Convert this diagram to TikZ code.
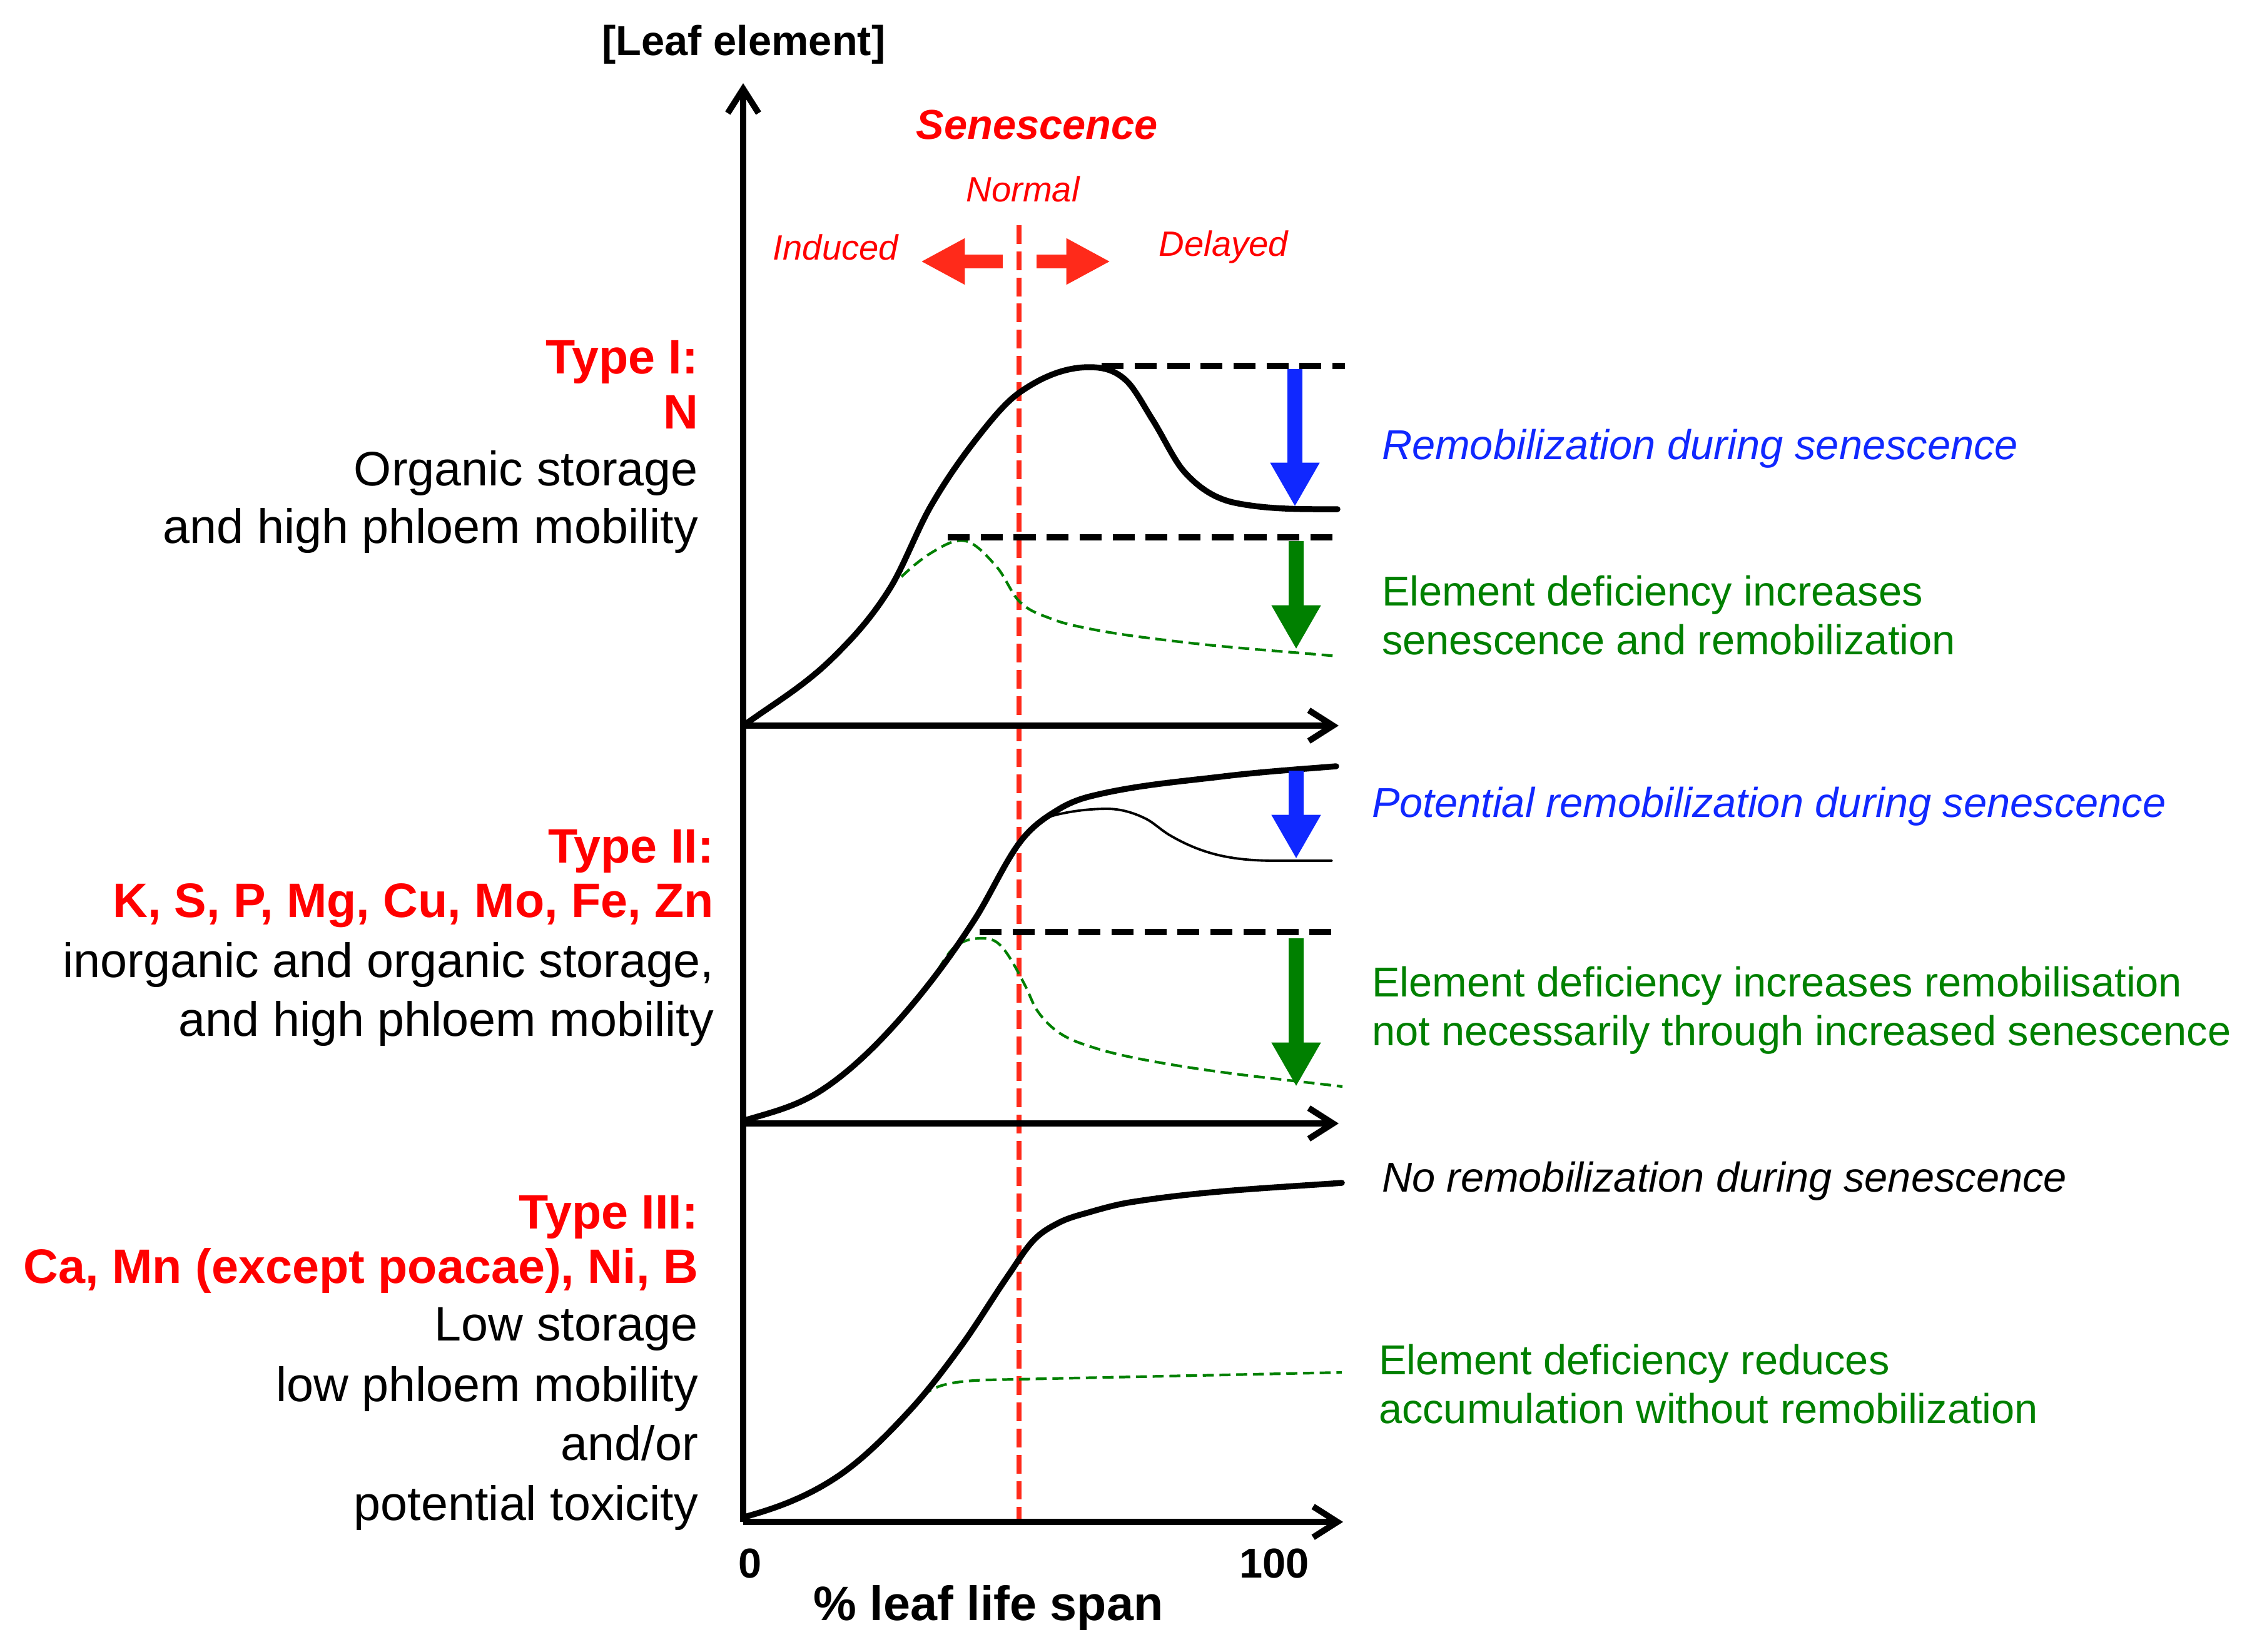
\documentclass[tikz,border=0pt]{standalone}
\usepackage{fontspec}
\setmainfont{Liberation Sans}
\usetikzlibrary{arrows.meta}
\definecolor{myred}{RGB}{255,0,0}
\definecolor{arrred}{RGB}{255,42,26}
\definecolor{myblue}{RGB}{16,40,255}
\definecolor{mygreen}{RGB}{0,128,0}
\newcommand{\fbig}{\fontsize{22}{26}\selectfont}
\newcommand{\fmid}{\fontsize{19}{22}\selectfont}
\newcommand{\fsml}{\fontsize{16}{19}\selectfont}
\begin{document}
\begin{tikzpicture}[
  txt/.style={inner sep=0pt, outer sep=0pt},
  lblock/.style={txt, anchor=base east, font=\fbig},
  lhead/.style={lblock, text=myred, font=\fbig\bfseries},
  rblock/.style={txt, anchor=base west, font=\fmid},
  axisline/.style={line width=2.8pt, -{Straight Barb[length=11pt,width=14pt]}},
  curve/.style={line width=2.7pt, line cap=round, line join=round},
  thincurve/.style={line width=1.1pt, line cap=round},
  greendash/.style={mygreen, line width=1.2pt, dash pattern=on 5pt off 2.6pt},
  leveldash/.style={line width=3.1pt, dash pattern=on 10pt off 5pt},
  reddash/.style={arrred, line width=2.4pt, dash pattern=on 8.5pt off 3.4pt},
  bigarrow/.style={line width=6.8pt, -{Triangle[length=20pt,width=21pt]}},
  redarrow/.style={arrred, line width=6.3pt, -{Triangle[length=20pt,width=19.6pt]}}
]
\useasboundingbox (0,0) rectangle (36,-26.4);
\fill[white] (0,0) rectangle (36,-26.4);

% axes coordinates
\coordinate (O1) at (11.88,-11.60);
\coordinate (O2) at (11.88,-17.96);
\coordinate (O3) at (11.88,-24.33);
\coordinate (Ytop) at (11.88,-1.33);
\coordinate (X1) at (21.40,-11.60);
\coordinate (X2) at (21.40,-17.96);
\coordinate (X3) at (21.47,-24.33);
\coordinate (Rtop) at (16.29,-3.60);
\coordinate (Rbot) at (16.29,-24.33);

% red dashed senescence line
\draw[reddash] (Rtop) -- (Rbot);

% ---------- Type I ----------
\draw[greendash] (14.41,-9.22) .. controls (14.573,-9.065) and (14.737,-8.928) .. (14.90,-8.83)
  .. controls (15.057,-8.736) and (15.213,-8.64) .. (15.37,-8.64)
  .. controls (15.56,-8.64) and (15.75,-8.852) .. (15.94,-9.07)
  .. controls (16.057,-9.204) and (16.173,-9.493) .. (16.29,-9.61)
  .. controls (16.46,-9.78) and (16.63,-9.822) .. (16.80,-9.89)
  .. controls (17.003,-9.971) and (17.207,-10.009) .. (17.41,-10.05)
  .. controls (17.893,-10.147) and (18.377,-10.202) .. (18.86,-10.26)
  .. controls (19.70,-10.361) and (20.54,-10.414) .. (21.38,-10.49);
\draw[curve] (11.94,-11.56) .. controls (12.403,-11.226) and (12.867,-10.959) .. (13.33,-10.50)
  .. controls (13.63,-10.203) and (13.93,-9.883) .. (14.23,-9.40)
  .. controls (14.447,-9.051) and (14.663,-8.465) .. (14.88,-8.09)
  .. controls (15.14,-7.64) and (15.40,-7.278) .. (15.66,-6.95)
  .. controls (15.87,-6.685) and (16.08,-6.429) .. (16.29,-6.28)
  .. controls (16.663,-6.015) and (17.037,-5.87) .. (17.41,-5.87)
  .. controls (17.607,-5.87) and (17.803,-5.899) .. (18.00,-6.08)
  .. controls (18.143,-6.212) and (18.287,-6.495) .. (18.43,-6.72)
  .. controls (18.597,-6.982) and (18.763,-7.353) .. (18.93,-7.54)
  .. controls (19.203,-7.846) and (19.477,-7.985) .. (19.75,-8.04)
  .. controls (20.293,-8.149) and (20.837,-8.14) .. (21.38,-8.14);
\coordinate (L1a) at (17.61,-5.85);
\coordinate (L1b) at (21.50,-5.85);
\coordinate (L2a) at (15.15,-8.59);
\coordinate (L2b) at (21.41,-8.59);
\draw[leveldash] (L1a) -- (L1b);
\draw[leveldash] (L2a) -- (L2b);
\coordinate (B1s) at (20.70,-5.90);
\coordinate (B1e) at (20.70,-8.10);
\coordinate (G1s) at (20.72,-8.65);
\coordinate (G1e) at (20.72,-10.38);
\draw[bigarrow, myblue] (B1s) -- (B1e);
\draw[bigarrow, mygreen] (G1s) -- (G1e);

% ---------- Type II ----------
\draw[greendash] (14.86,-15.72) .. controls (14.99,-15.538) and (15.12,-15.261) .. (15.25,-15.15)
  .. controls (15.40,-15.023) and (15.55,-15.00) .. (15.70,-15.00)
  .. controls (15.797,-15.00) and (15.893,-15.013) .. (15.99,-15.11)
  .. controls (16.123,-15.243) and (16.257,-15.507) .. (16.39,-15.76)
  .. controls (16.45,-15.874) and (16.51,-16.05) .. (16.57,-16.14)
  .. controls (16.677,-16.30) and (16.783,-16.40) .. (16.89,-16.48)
  .. controls (17.07,-16.615) and (17.25,-16.671) .. (17.43,-16.73)
  .. controls (17.787,-16.848) and (18.143,-16.916) .. (18.50,-16.98)
  .. controls (19.487,-17.158) and (20.473,-17.252) .. (21.46,-17.37);
\draw[curve] (11.94,-17.90) .. controls (12.337,-17.781) and (12.733,-17.688) .. (13.13,-17.43)
  .. controls (13.537,-17.166) and (13.943,-16.786) .. (14.35,-16.33)
  .. controls (14.76,-15.871) and (15.17,-15.336) .. (15.58,-14.70)
  .. controls (15.81,-14.344) and (16.04,-13.832) .. (16.27,-13.51)
  .. controls (16.487,-13.207) and (16.703,-13.074) .. (16.92,-12.94)
  .. controls (17.09,-12.835) and (17.26,-12.773) .. (17.43,-12.73)
  .. controls (18.143,-12.552) and (18.857,-12.496) .. (19.57,-12.41)
  .. controls (20.167,-12.338) and (20.763,-12.298) .. (21.36,-12.25);
\draw[thincurve] (16.54,-13.21) .. controls (16.693,-13.064) and (16.847,-13.031) .. (17.00,-13.00)
  .. controls (17.233,-12.953) and (17.467,-12.93) .. (17.70,-12.93)
  .. controls (17.907,-12.93) and (18.113,-12.987) .. (18.32,-13.09)
  .. controls (18.44,-13.15) and (18.56,-13.268) .. (18.68,-13.34)
  .. controls (18.977,-13.518) and (19.273,-13.631) .. (19.57,-13.69)
  .. controls (19.847,-13.745) and (20.123,-13.76) .. (20.40,-13.76)
  -- (21.29,-13.76);
\coordinate (L3a) at (15.66,-14.90);
\coordinate (L3b) at (21.32,-14.90);
\draw[leveldash] (L3a) -- (L3b);
\coordinate (B2s) at (20.72,-12.32);
\coordinate (B2e) at (20.72,-13.73);
\coordinate (G2s) at (20.72,-15.00);
\coordinate (G2e) at (20.72,-17.37);
\draw[bigarrow, myblue] (B2s) -- (B2e);
\draw[bigarrow, mygreen] (G2s) -- (G2e);

% ---------- Type III ----------
\draw[greendash] (14.74,-22.32) .. controls (14.883,-22.20) and (15.027,-22.149) .. (15.17,-22.12)
  .. controls (15.373,-22.079) and (15.577,-22.068) .. (15.78,-22.06)
  .. controls (17.67,-22.02) and (19.56,-21.98) .. (21.45,-21.94);
\draw[curve] (11.94,-24.24) .. controls (12.43,-24.103) and (12.92,-23.923) .. (13.41,-23.59)
  .. controls (13.793,-23.329) and (14.177,-22.948) .. (14.56,-22.53)
  .. controls (14.83,-22.236) and (15.10,-21.883) .. (15.37,-21.51)
  .. controls (15.617,-21.17) and (15.863,-20.758) .. (16.11,-20.40)
  .. controls (16.247,-20.202) and (16.383,-19.974) .. (16.52,-19.83)
  .. controls (16.653,-19.69) and (16.787,-19.619) .. (16.92,-19.55)
  .. controls (17.083,-19.465) and (17.247,-19.427) .. (17.41,-19.38)
  .. controls (17.63,-19.316) and (17.85,-19.255) .. (18.07,-19.22)
  .. controls (19.197,-19.04) and (20.323,-18.989) .. (21.45,-18.91);

% axes
\draw[axisline] (O3) -- (Ytop);
\draw[axisline] (O1) -- (X1);
\draw[axisline] (O2) -- (X2);
\draw[axisline] (O3) -- (X3);

% red block arrows
\coordinate (RAl) at (16.03,-4.18);
\coordinate (RAlt) at (14.72,-4.18);
\coordinate (RAr) at (16.57,-4.18);
\coordinate (RArt) at (17.75,-4.18);
\draw[redarrow] (RAl) -- (RAlt);
\draw[redarrow] (RAr) -- (RArt);

% top labels
\node[txt, anchor=base, font=\fmid\bfseries] (ylab) at (11.89,-0.88) {[Leaf element]};
\node[txt, anchor=base, font=\fmid\bfseries\itshape, text=myred] (sen) at (16.58,-2.22) {Senescence};
\node[txt, anchor=base, font=\fsml\itshape, text=myred] (nor) at (16.35,-3.22) {Normal};
\node[txt, anchor=base, font=\fsml\itshape, text=myred] (ind) at (13.36,-4.15) {Induced};
\node[txt, anchor=base, font=\fsml\itshape, text=myred] (del) at (19.56,-4.09) {Delayed};

% bottom labels
\node[txt, anchor=base, font=\fmid\bfseries] (zero) at (11.99,-25.22) {0};
\node[txt, anchor=base, font=\fmid\bfseries] (hund) at (20.37,-25.22) {100};
\node[txt, anchor=base, font=\fbig\bfseries] (xlab) at (15.80,-25.90) {\% leaf life span};

% left blocks
\node[lhead] (t1a) at (11.16,-5.97) {Type I:};
\node[lhead] (t1b) at (11.16,-6.85) {N};
\node[lblock] (t1c) at (11.16,-7.76) {Organic storage};
\node[lblock] (t1d) at (11.16,-8.68) {and high phloem mobility};

\node[lhead] (t2a) at (11.41,-13.79) {Type II:};
\node[lhead] (t2b) at (11.41,-14.66) {K, S, P, Mg, Cu, Mo, Fe, Zn};
\node[lblock] (t2c) at (11.41,-15.62) {inorganic and organic storage,};
\node[lblock] (t2d) at (11.41,-16.56) {and high phloem mobility};

\node[lhead] (t3a) at (11.16,-19.64) {Type III:};
\node[lhead] (t3b) at (11.16,-20.51) {Ca, Mn (except poacae), Ni, B};
\node[lblock] (t3c) at (11.16,-21.43) {Low storage};
\node[lblock] (t3d) at (11.16,-22.40) {low phloem mobility};
\node[lblock] (t3e) at (11.16,-23.34) {and/or};
\node[lblock] (t3f) at (11.16,-24.30) {potential toxicity};

% right blocks
\node[rblock, text=myblue, font=\fmid\itshape] (r1) at (22.09,-7.34) {Remobilization during senescence};
\node[rblock, text=mygreen] (r2a) at (22.09,-9.68) {Element deficiency increases};
\node[rblock, text=mygreen] (r2b) at (22.09,-10.46) {senescence and remobilization};
\node[rblock, text=myblue, font=\fmid\itshape] (r3) at (21.93,-13.06) {Potential remobilization during senescence};
\node[rblock, text=mygreen] (r4a) at (21.93,-15.93) {Element deficiency increases remobilisation};
\node[rblock, text=mygreen] (r4b) at (21.93,-16.71) {not necessarily through increased senescence};
\node[rblock, font=\fmid\itshape] (r5) at (22.09,-19.05) {No remobilization during senescence};
\node[rblock, text=mygreen] (r6a) at (22.04,-21.97) {Element deficiency reduces};
\node[rblock, text=mygreen] (r6b) at (22.04,-22.75) {accumulation without remobilization};
\end{tikzpicture}
\end{document}
